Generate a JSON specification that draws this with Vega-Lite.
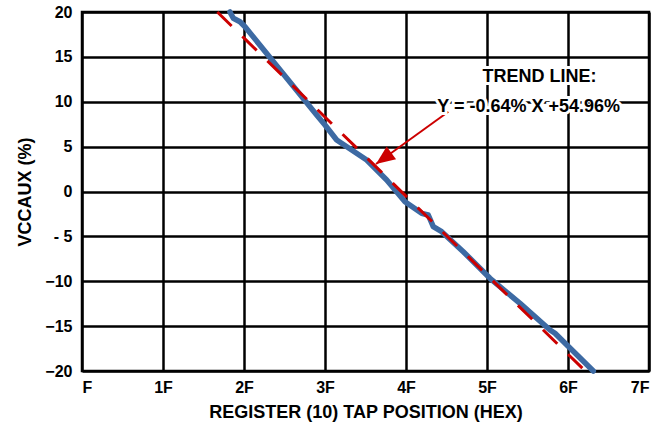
{
  "$schema": "https://vega.github.io/schema/vega-lite/v6.json",
  "width": 567,
  "height": 359,
  "autosize": {"type": "none"},
  "padding": {"left": 82, "top": 12, "right": 18, "bottom": 56},
  "background": "white",
  "config": {
    "font": "Liberation Sans",
    "view": {"stroke": "black", "strokeWidth": 2.5},
    "axis": {
      "grid": true,
      "gridColor": "black",
      "gridWidth": 2.5,
      "gridOpacity": 1,
      "domain": false,
      "ticks": false,
      "labelFont": "Liberation Sans",
      "labelFontWeight": "bold",
      "labelFontSize": 16,
      "labelColor": "black",
      "titleFont": "Liberation Sans",
      "titleFontWeight": "bold",
      "titleFontSize": 18,
      "titleColor": "black"
    }
  },
  "datasets": {
    "tap": [
      {"x": 44.23, "y": 20.0},
      {"x": 44.89, "y": 19.3},
      {"x": 46.21, "y": 18.92},
      {"x": 47.2, "y": 18.36},
      {"x": 61.36, "y": 8.52},
      {"x": 63.0, "y": 7.41},
      {"x": 65.31, "y": 5.74},
      {"x": 71.24, "y": 3.51},
      {"x": 75.19, "y": 1.28},
      {"x": 78.8, "y": -1.14},
      {"x": 82.1, "y": -2.43},
      {"x": 83.4, "y": -2.62},
      {"x": 84.39, "y": -3.92},
      {"x": 86.05, "y": -4.48},
      {"x": 90.32, "y": -6.71},
      {"x": 95.59, "y": -9.67},
      {"x": 101.52, "y": -12.46},
      {"x": 107.45, "y": -15.43},
      {"x": 108.43, "y": -15.8},
      {"x": 116.0, "y": -20.0}
    ],
    "trend": [
      {"x": 41.73, "y": 20.0},
      {"x": 114.4, "y": -20.0}
    ],
    "pointer": [
      {"x": 87.36, "y": 8.89, "x2": 73.07, "y2": 3.06}
    ],
    "notes": [
      {"x": 105.37, "y": 12.79, "text": "TREND LINE:"},
      {"x": 103.24, "y": 9.45, "text": "Y = -0.64% X +54.96%"}
    ]
  },
  "layer": [
    {
      "data": {"name": "tap"},
      "mark": {"type": "line", "color": "#3D6AA3", "strokeWidth": 5.5, "strokeJoin": "round", "strokeCap": "round"},
      "encoding": {
        "x": {
          "field": "x",
          "type": "quantitative",
          "scale": {"domain": [15, 127], "nice": false, "zero": false},
          "axis": {
            "title": "REGISTER (10) TAP POSITION (HEX)",
            "values": [15, 31, 47, 63, 79, 95, 111, 127],
            "labelExpr": "floor(datum.value / 16) == 0 ? 'F' : floor(datum.value / 16) + 'F'",
            "labelPadding": 8,
            "titlePadding": 8
          }
        },
        "y": {
          "field": "y",
          "type": "quantitative",
          "scale": {"domain": [-20, 20], "nice": false},
          "axis": {
            "title": "VCCAUX (%)",
            "values": [-20, -15, -10, -5, 0, 5, 10, 15, 20],
            "labelExpr": "datum.value == -5 ? '- 5' : datum.label",
            "labelPadding": 10,
            "titlePadding": 10
          }
        }
      }
    },
    {
      "data": {"name": "trend"},
      "mark": {"type": "line", "color": "#CC0000", "strokeWidth": 3, "strokeDash": [20, 15]},
      "encoding": {
        "x": {"field": "x", "type": "quantitative"},
        "y": {"field": "y", "type": "quantitative"}
      }
    },
    {
      "data": {"name": "pointer"},
      "mark": {"type": "rule", "color": "#CC0000", "strokeWidth": 2},
      "encoding": {
        "x": {"field": "x", "type": "quantitative"},
        "y": {"field": "y", "type": "quantitative"},
        "x2": {"field": "x2"},
        "y2": {"field": "y2"}
      }
    },
    {
      "data": {"name": "pointer"},
      "mark": {"type": "point", "shape": "M0,0L0.42,1L-0.42,1Z", "size": 1444, "angle": 234, "filled": true, "color": "#CC0000", "opacity": 1},
      "encoding": {
        "x": {"field": "x2", "type": "quantitative"},
        "y": {"field": "y2", "type": "quantitative"}
      }
    },
    {
      "data": {"name": "notes"},
      "mark": {"type": "text", "font": "Liberation Sans", "fontWeight": "bold", "fontSize": 18, "align": "center", "baseline": "middle", "color": "white", "stroke": "white", "strokeWidth": 6},
      "encoding": {
        "x": {"field": "x", "type": "quantitative"},
        "y": {"field": "y", "type": "quantitative"},
        "text": {"field": "text"}
      }
    },
    {
      "data": {"name": "notes"},
      "mark": {"type": "text", "font": "Liberation Sans", "fontWeight": "bold", "fontSize": 18, "align": "center", "baseline": "middle", "color": "black"},
      "encoding": {
        "x": {"field": "x", "type": "quantitative"},
        "y": {"field": "y", "type": "quantitative"},
        "text": {"field": "text"}
      }
    }
  ]
}
